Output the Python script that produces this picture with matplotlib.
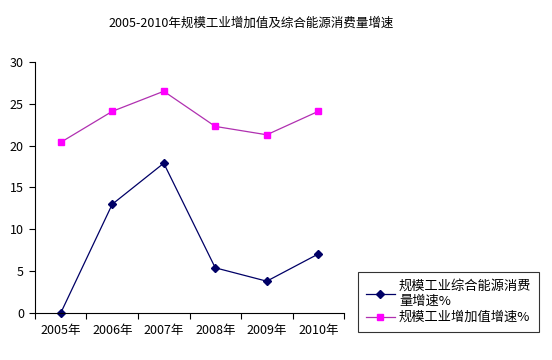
import matplotlib.pyplot as plt
from matplotlib.ticker import FixedLocator

plt.rcParams["font.family"] = ["Noto Sans CJK SC", "DejaVu Sans"]

years = ["2005年", "2006年", "2007年", "2008年", "2009年", "2010年"]
energy = [0.0, 13.0, 17.9, 5.4, 3.8, 7.05]
added_value = [20.4, 24.1, 26.5, 22.3, 21.3, 24.1]
names = ["规模工业综合能源消费\n量增速%", "规模工业增加值增速%"]

fig = plt.figure(figsize=(5.52, 3.6), dpi=100)
ax = fig.add_axes([0.0634, 0.1306, 0.5598, 0.6972])

x = list(range(len(years)))
h1, = ax.plot(x, energy, color="#000066", lw=0.9, marker="D", ms=4,
              mfc="#000066", mec="#000066", label=names[0], clip_on=False)
h2, = ax.plot(x, added_value, color="#b030b0", lw=0.9, marker="s", ms=4.5,
              mfc="#ff00ff", mec="#ff00ff", label=names[1], clip_on=False)

ax.set_xlim(-0.5, len(years) - 0.5)
ax.set_ylim(0, 30)
ax.set_yticks(range(0, 31, 5))
ax.set_xticks(x)
ax.set_xticklabels(years)
ax.xaxis.set_minor_locator(FixedLocator([i - 0.5 for i in range(len(years) + 1)]))
ax.tick_params(axis="x", which="major", length=0, pad=8, labelsize=9)
ax.tick_params(axis="x", which="minor", length=4, direction="out", width=0.8)
ax.tick_params(axis="y", length=4, direction="out", width=0.8, labelsize=9, pad=4)
ax.spines["top"].set_visible(False)
ax.spines["right"].set_visible(False)
for s in ("left", "bottom"):
    ax.spines[s].set_linewidth(0.8)

fig.text(0.455, 0.935, "2005-2010年规模工业增加值及综合能源消费量增速",
         ha="center", va="center", fontsize=9)

leg = fig.legend(handles=[h1, h2], loc="upper left",
                 bbox_to_anchor=(358 / 552, 1 - 272 / 360),
                 fontsize=9.5, frameon=True, fancybox=False, handlelength=2.2,
                 handletextpad=0.3, borderpad=0.6, labelspacing=0.25,
                 borderaxespad=0)
leg.get_frame().set_edgecolor("black")
leg.get_frame().set_linewidth(0.8)

fig.savefig("out.png", dpi=100)
